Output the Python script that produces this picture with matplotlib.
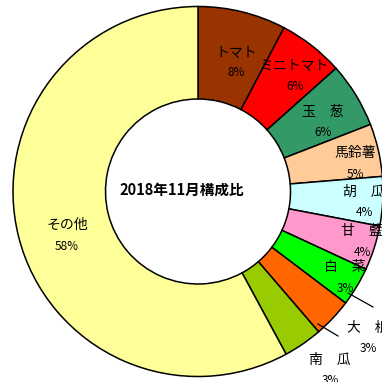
import matplotlib
matplotlib.use('Agg')
import matplotlib.pyplot as plt

plt.rcParams['font.family'] = ['Noto Sans CJK JP', 'DejaVu Sans']

# share of each item in the month (%)
items = ['トマト', 'ミニトマト', '玉　葱', '馬鈴薯', '胡　瓜', '甘　藍',
         '白　菜', '大　根', '南　瓜', 'その他']
shares = [7.7, 5.7, 5.7, 4.6, 4.3, 3.9, 3.4, 3.4, 3.4, 57.9]
colors = ['#993300', '#ff0000', '#339966', '#ffcc99', '#ccffff', '#ff99cc',
          '#00ff00', '#ff6600', '#99cc00', '#ffff99']
title = '2018年11月構成比'

W = H = 382
cx, cy = 198, 190.5
R = 185

# where each name goes (pixels from the top-left), percentage sits below it
name_pos = [(236, 52), (295, 65), (323, 112), (355, 153), (364, 192),
            (362, 231), (345, 267), (368, 328), (330, 360), (67, 225)]
pct_gap = 21

# leader lines for the labels pushed outside the ring
leaders = [((348, 293), (373, 307)), ((318, 324), (338, 336))]

fig = plt.figure(figsize=(3.82, 3.82), dpi=100)
ax = fig.add_axes([0, 0, 1, 1])

ax.pie(shares, colors=colors, startangle=90, counterclock=False,
       radius=R, center=(cx, cy),
       wedgeprops=dict(width=R * 0.5, edgecolor='black', linewidth=1.1))

ax.set_xlim(0, W)
ax.set_ylim(0, H)
ax.set_aspect('equal')
ax.axis('off')

for name, v, (x, y) in zip(items, shares, name_pos):
    ax.text(x, H - y, name, ha='center', va='center', fontsize=10)
    ax.text(x, H - y - pct_gap, f'{v:.0f}%', ha='center', va='center', fontsize=8.5)

for (x0, y0), (x1, y1) in leaders:
    ax.plot([x0, x1], [H - y0, H - y1], color='black', linewidth=0.9)

ax.text(cx - 16, cy + 2, title, ha='center', va='center',
        fontsize=10.5, fontweight='bold')

fig.savefig('out.png', dpi=100)
